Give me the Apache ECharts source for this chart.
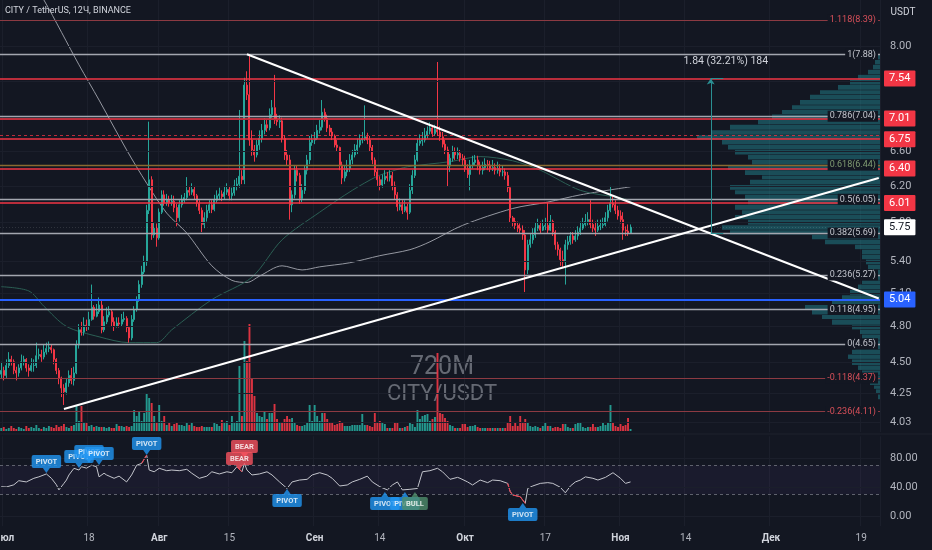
<!DOCTYPE html>
<html>
<head>
<meta charset="utf-8">
<title>CITY / TetherUS</title>
<script src="https://cdn.jsdelivr.net/npm/echarts@6.0.0/dist/echarts.min.js"></script>
<style>
html,body{margin:0;padding:0;background:#131722;overflow:hidden;}
#chart{width:932px;height:550px;}
</style>
</head>
<body>
<div id="chart"></div>
<script>
// ================= DATA (12h candles, CITY/USDT, Binance) =================
const firstOpen = 4.40;
const closes = [
4.43,4.39,4.47,4.52,4.50,4.43,4.41,4.45,4.50,4.52,4.45,4.43,4.47,4.47,4.55,4.56,4.54,4.58,4.61,4.62,
4.60,4.52,4.43,4.37,4.29,4.26,4.33,4.39,4.35,4.41,4.64,4.77,4.75,4.81,4.80,4.86,4.97,4.89,4.93,4.99,4.77,
4.84,4.90,4.93,4.84,4.80,4.83,4.82,4.86,4.87,4.79,4.70,4.86,4.95,5.04,5.18,5.30,5.40,5.93,6.27,
5.67,5.74,5.64,5.91,6.10,6.01,6.04,6.01,6.03,5.96,5.85,5.99,6.04,6.07,6.15,6.13,6.16,6.09,6.01,5.93,
5.78,5.85,5.93,5.99,5.94,6.04,6.09,6.11,6.08,6.13,6.16,6.09,6.12,6.20,6.22,6.31,6.27,7.45,7.32,6.74,
6.62,6.56,6.68,6.76,6.86,6.93,6.89,7.06,7.15,6.99,6.97,6.98,6.76,6.56,6.50,5.99,6.10,6.38,6.32,6.06,
6.15,6.38,6.50,6.71,6.74,6.76,6.86,6.90,7.09,7.01,6.89,6.84,6.79,
6.68,6.65,6.44,6.29,6.36,6.40,6.50,6.56,6.62,6.68,6.74,6.76,6.78,6.74,6.65,6.50,6.36,6.27,6.21,6.27,
6.31,6.29,6.32,6.20,6.10,5.97,5.99,5.93,5.97,5.91,6.15,6.32,6.50,6.70,6.73,6.74,6.80,6.85,6.89,6.82,
6.87,6.84,6.78,6.69,6.62,6.43,6.52,6.60,6.56,6.58,6.52,6.50,6.40,6.33,6.44,6.47,6.50,6.43,6.38,6.41,
6.45,6.44,6.40,6.41,6.38,6.40,6.36,
6.36,6.32,6.18,5.85,5.81,5.77,5.74,5.72,5.67,5.32,5.57,5.62,5.67,5.74,5.77,5.72,5.76,5.77,5.72,5.81,
5.70,5.57,5.52,5.42,5.40,5.57,5.60,5.66,5.62,5.66,5.70,5.74,5.78,5.81,5.83,5.78,5.74,5.72,5.76,5.77,
5.78,5.85,5.93,6.01,5.99,5.93,5.87,5.83,5.72,5.71,5.69,5.75
];
const highs = [
4.50,4.46,4.52,4.58,4.55,4.52,4.46,4.48,4.56,4.55,4.53,4.48,4.53,4.52,4.66,4.61,4.60,4.64,4.66,4.67,
4.64,4.61,4.53,4.45,4.38,4.32,4.37,4.43,4.45,4.46,4.68,4.82,4.84,4.88,4.86,4.93,5.18,4.99,5.00,5.06,5.04,
4.89,4.97,4.98,4.95,4.88,4.88,4.88,4.91,4.93,4.89,4.80,4.90,4.98,5.07,5.22,5.36,5.46,5.99,6.97,
6.31,5.80,5.79,5.95,6.15,6.15,6.11,6.09,6.10,6.09,6.00,6.04,6.10,6.12,6.30,6.20,6.23,6.20,6.11,6.04,
5.96,5.91,5.99,6.04,6.04,6.10,6.15,6.18,6.15,6.20,6.23,6.20,6.18,6.27,6.29,7.12,6.38,7.55,7.64,7.88,
6.86,6.68,6.74,6.86,6.94,7.01,6.99,7.14,7.25,7.59,7.07,7.05,7.02,6.80,6.62,6.56,6.15,6.44,6.43,6.35,
6.22,6.43,6.56,6.79,6.81,6.84,6.93,6.99,7.25,7.14,7.06,6.93,6.89,
6.81,6.74,6.66,6.48,6.43,6.50,6.57,6.62,6.69,6.76,6.81,6.84,7.18,6.83,6.79,6.68,6.53,6.40,6.31,6.33,
6.38,6.36,6.38,6.36,6.25,6.13,6.06,6.04,6.04,6.00,6.22,6.38,6.56,6.76,6.81,6.84,6.89,6.91,6.96,6.93,
6.93,7.77,6.91,6.84,6.74,6.66,6.57,6.67,6.65,6.65,6.62,6.57,6.55,6.45,6.50,6.55,6.56,6.55,6.48,6.48,
6.52,6.50,6.49,6.50,6.46,6.48,6.45,
6.43,6.40,6.36,6.20,5.87,5.85,5.81,5.79,5.77,5.72,5.62,5.68,5.74,5.80,5.84,5.81,5.83,5.85,6.02,5.88,
5.83,5.72,5.60,5.54,5.51,5.62,5.66,5.70,5.70,5.72,5.76,5.81,5.85,5.89,5.91,6.04,5.83,5.81,5.83,5.83,
5.85,5.91,5.99,6.20,6.09,6.04,5.98,5.93,5.91,5.76,5.78,5.78
];
const lows = [
4.37,4.35,4.37,4.45,4.47,4.40,4.35,4.38,4.43,4.47,4.42,4.38,4.42,4.42,4.45,4.52,4.50,4.52,4.56,4.58,
4.57,4.48,4.40,4.32,4.22,4.16,4.24,4.30,4.32,4.31,4.40,4.61,4.72,4.72,4.76,4.77,4.85,4.86,4.88,4.91,4.74,
4.75,4.82,4.88,4.80,4.76,4.79,4.79,4.80,4.84,4.75,4.66,4.68,4.84,4.93,5.02,5.15,5.28,5.36,5.89,
5.62,5.64,5.55,5.62,5.89,5.98,5.98,5.97,5.98,5.91,5.76,5.81,5.96,6.01,6.04,6.09,6.10,6.05,5.97,5.89,
5.70,5.74,5.81,5.90,5.90,5.92,6.01,6.04,6.03,6.05,6.10,6.04,6.04,6.09,6.15,6.18,6.22,6.22,7.25,6.67,
6.55,6.48,6.53,6.62,6.71,6.81,6.84,6.86,7.02,6.94,6.92,6.89,6.71,6.50,6.43,5.83,5.91,6.06,6.25,6.00,
6.02,6.11,6.33,6.45,6.67,6.69,6.74,6.82,6.86,6.97,6.84,6.79,6.74,
6.65,6.60,6.38,6.22,6.25,6.31,6.36,6.45,6.53,6.57,6.65,6.70,6.73,6.69,6.60,6.45,6.31,6.20,6.15,6.18,
6.22,6.25,6.25,6.15,6.05,5.92,5.93,5.89,5.91,5.83,5.89,6.11,6.29,6.48,6.67,6.67,6.71,6.76,6.81,6.78,
6.79,6.79,6.73,6.65,6.57,6.19,6.36,6.48,6.50,6.51,6.48,6.44,6.36,6.29,6.15,6.40,6.43,6.38,6.33,6.33,
6.38,6.38,6.36,6.37,6.33,6.34,6.31,
6.31,6.27,6.13,5.80,5.76,5.73,5.70,5.68,5.62,5.11,5.28,5.54,5.58,5.64,5.71,5.68,5.71,5.72,5.68,5.71,
5.66,5.52,5.46,5.36,5.35,5.18,5.52,5.57,5.58,5.60,5.62,5.67,5.72,5.76,5.77,5.74,5.70,5.66,5.70,5.72,
5.74,5.76,5.81,5.91,5.96,5.89,5.83,5.79,5.62,5.66,5.66,5.69
];
const volumes = [
3,4,2,3,5,3,2,4,3,2,5,3,4,3,6,3,2,4,3,5,
4,3,6,4,5,7,4,3,5,6,25,10,25,8,9,5,6,4,5,4,4,
4,3,4,3,3,7,5,5,4,5,4,5,21,15,19,10,18,37,33,
28,15,8,26,10,15,6,8,5,7,9,6,6,5,8,6,8,5,4,4,
5,4,4,4,4,8,7,5,11,8,10,6,15,8,10,65,15,90,70,107,
52,35,18,15,14,20,12,18,18,27,12,8,8,12,15,12,13,8,6,5,
5,6,8,26,10,26,15,10,18,18,12,8,8,
6,7,10,8,5,5,5,6,6,6,6,17,6,6,5,4,18,9,10,9,
7,3,3,3,8,9,3,3,4,5,8,7,4,21,12,15,16,17,10,12,
14,78,18,17,13,10,6,5,3,3,3,7,7,4,5,5,6,4,3,3,
3,3,3,3,3,3,3,
3,3,9,15,5,8,5,15,8,12,8,5,4,5,4,3,5,9,5,5,
3,4,4,3,7,7,4,3,3,7,9,8,4,3,4,4,7,4,4,5,
9,6,8,26,8,5,4,7,5,6,13,2
];

// Moving averages (anchor points: candle index, price)
const maSlowIdx = [13,17,31,39,50,58,66,74,84,92,98,103,112,120,127,139,151,163,171,184,204,218,231,251];
const maSlowVal = [8.92,8.70,7.73,7.25,6.62,6.23,5.90,5.69,5.36,5.22,5.20,5.26,5.36,5.32,5.35,5.39,5.46,5.52,5.60,5.77,5.95,6.02,6.10,6.19];
const maFastIdx = [0,11,17,26,39,51,62,68,84,100,112,127,140,150,156,162,179,191,204,215,231,246,251];
const maFastVal = [5.16,5.12,4.98,4.80,4.71,4.66,4.66,4.77,5.04,5.25,5.62,5.91,6.15,6.31,6.37,6.42,6.48,6.54,6.49,6.38,6.15,6.07,6.04];

// RSI
const rsiIdx = [0,2,5,7,10,13,15,18,20,22,23,25,26,27,29,31,32,34,36,38,39,41,42,45,47,50,52,54,56,58,59,61,63,66,68,71,74,76,79,82,84,87,90,92,94,96,97,98,100,103,106,108,111,114,116,119,122,124,127,130,132,135,138,140,143,146,148,151,154,156,158,160,163,166,168,171,174,176,179,182,183,186,188,191,194,196,199,202,203,204,207,209,210,212,215,218,220,223,225,227,229,231,233,236,238,241,244,247,249,251];
const rsiVal = [40.4,40,43,48.7,47,52,54,58,52,43,36,45,49.6,56.6,65.8,63.4,68,66,70,68,54,59,56.6,52,55,47,56.6,70,72.6,84,63.4,61,65.8,62.5,63.4,62.5,64.4,59,52,55,61,58,61,59.7,68,61,72.6,63.4,56.6,58,61,56.6,47,38,47,49.6,50.6,56.6,59.7,56.6,52,41.4,42.8,47,50.6,55,47,40.4,36,42.8,47,36,36.8,38,61,62.5,65.8,61,50.6,53.3,52,47,42.8,49.6,46,49.6,48.7,45,33.6,29,26.6,17.5,38,41.4,45,46,45,39.6,32,41.4,47,49.6,54,52,49.6,53.3,59.7,52,45,47];
const rsiRedRanges = [[56,58],[94,96],[202,209]];

// RSI annotations
const pivotIdx  = [18,31,35,39,58,97,95,114,153,161,165,208];
const pivotVal  = [59.3,66.2,73.1,70.3,84.1,80,63.4,37.2,33,33,33,17.9];
const pivotText = ['PIVOT','PIVOT','PIVOT','PIVOT','PIVOT','BEAR','BEAR','PIVOT','PIVOT','PIVOT','BULL','PIVOT'];
const pivotSide = ['above','above','above','above','above','above','above','below','below','below','below','below'];

// Fibonacci retracement
const fibLevels = [1.118,1,0.786,0.618,0.5,0.382,0.236,0.118,0,-0.118,-0.236];
const fibPrices = [8.39,7.88,7.04,6.44,6.05,5.69,5.27,4.95,4.65,4.37,4.11];
// Horizontal support / resistance
const resistancePrices = [7.54,7.01,6.75,6.40,6.01];
const supportPrice = 5.04;
const lastPrice = 5.75;
const alertPrice = 6.80;
// Trend lines [index, price]
const trendDown = [[98,7.88],[350,5.05]];
const trendUp   = [[25,4.13],[350,6.29]];
// Measure tool
const measureIdx = 283, measureFrom = 5.69, measureTo = 7.54;
const measureText = '1.84 (32.21%) 184';
const measureTextPos = [289, 7.78];

// Volume profile (price bin edges, top to bottom) and relative volume
const profileEdges = [7.87,7.80,7.73,7.66,7.59,7.52,7.45,7.38,7.32,7.25,7.18,7.12,7.06,6.99,6.93,6.86,6.80,6.74,6.68,6.62,6.56,6.50,6.44,6.38,6.32,6.27,6.21,6.15,6.10,6.04,5.99,5.93,5.88,5.83,5.77,5.72,5.67,5.62,5.57,5.52,5.47,5.42,5.37,5.32,5.27,5.22,5.18,5.13,5.08,5.04,4.99,4.95,4.90,4.86,4.81,4.77,4.73,4.68,4.64,4.60,4.56,4.52,4.47,4.43,4.39,4.35,4.31,4.28,4.24,4.20];
const profileVol = [3,5,7,12,22,30,42,60,70,80,88,98,108,122,150,168,183,158,152,145,132,128,152,135,118,130,150,145,135,132,145,138,145,132,158,150,68,55,25,18,18,14,12,12,15,18,22,30,38,48,75,68,58,48,28,20,18,20,25,28,32,28,22,18,14,10,6,4,2];

// Axis ticks / labels
const priceTicks = [8.00,7.50,7.00,6.60,6.20,5.80,5.40,5.10,4.80,4.50,4.25,4.03];
const rsiTicks = [0,40,80];
const xLabelDates = ['2023-07-01','2023-07-18','2023-08-01','2023-08-15','2023-09-01','2023-09-14','2023-10-01','2023-10-17','2023-11-01','2023-11-14','2023-12-01','2023-12-19'];
const xLabelTexts = ['Июл','18','Авг','15','Сен','14','Окт','17','Ноя','14','Дек','19'];

// ================= BUILD =================
const BG = '#131722';
const FONT = 'Roboto, "Noto Sans", sans-serif';
const UP = '#26a69a', DN = '#f23645';
const GRIDC = '#1b1f2b';

const categories = [];
const t0 = Date.UTC(2023, 5, 30, 12);
for (let k = 0; k < 351; k++) {
  categories.push(new Date(t0 + k * 43200000).toISOString().slice(0, 16).replace('T', ' '));
}
const labelMap = {};
xLabelDates.forEach((d, i) => { labelMap[d + ' 00:00'] = xLabelTexts[i]; });
const showLbl = (idx, val) => labelMap[val] !== undefined;

const candles = closes.map((c, k) => [k === 0 ? firstOpen : closes[k - 1], c, lows[k], highs[k]]);
const volData = volumes.map((v, k) => ({
  value: v,
  itemStyle: { color: candles[k][1] >= candles[k][0] ? 'rgba(38,166,154,0.9)' : 'rgba(242,54,69,0.9)' }
}));
const rsiPts = rsiIdx.map((k, i) => [k, rsiVal[i]]);

// drawings
const drawItems = [];
fibLevels.forEach((lv, i) => {
  const p = fibPrices[i];
  const red = lv > 1 || lv < 0, gold = lv === 0.618;
  drawItems.push({
    yAxis: p,
    lineStyle: { color: red ? '#8c3a42' : gold ? '#8a6a30' : '#a3a6af', width: red ? 1 : 1.3, type: 'solid' },
    label: { show: true, position: 'insideEnd', distance: 2, formatter: lv + '(' + p.toFixed(2) + ')',
      color: red ? '#d9505a' : gold ? '#7f9b72' : '#c3c6ce', fontSize: 9, fontFamily: FONT,
      backgroundColor: BG, padding: [1, 2] }
  });
});
drawItems.push({ yAxis: alertPrice, lineStyle: { color: 'rgba(242,54,69,0.75)', width: 1, type: [3, 3] }, label: { show: false } });
resistancePrices.forEach(p => drawItems.push({
  yAxis: p, lineStyle: { color: '#f23645', width: 1.6, type: 'solid' },
  label: { show: true, position: 'end', distance: 4, formatter: p.toFixed(2), color: '#ffffff',
    backgroundColor: '#f23645', padding: [3, 5, 2, 5], fontSize: 11, fontFamily: FONT, borderRadius: 1 }
}));
drawItems.push({
  yAxis: supportPrice, lineStyle: { color: '#2962ff', width: 2, type: 'solid' },
  label: { show: true, position: 'end', distance: 4, formatter: supportPrice.toFixed(2), color: '#ffffff',
    backgroundColor: '#2962ff', padding: [3, 5, 2, 5], fontSize: 11, fontFamily: FONT, borderRadius: 1 }
});
drawItems.push({
  yAxis: lastPrice, lineStyle: { color: 'rgba(255,255,255,0.12)', width: 1, type: [1, 2] },
  label: { show: true, position: 'end', distance: 4, formatter: lastPrice.toFixed(2), color: '#131722',
    backgroundColor: '#ffffff', padding: [3, 5, 2, 5], fontSize: 11, fontFamily: FONT, borderRadius: 1 }
});
[trendDown, trendUp].forEach(tl => drawItems.push([
  { coord: tl[0], lineStyle: { color: '#ffffff', width: 2, type: 'solid' }, label: { show: false } },
  { coord: tl[1] }
]));
// measure
drawItems.push([
  { coord: [measureIdx, measureFrom], symbol: 'none', lineStyle: { color: '#2a8f93', width: 1, type: 'solid' }, label: { show: false } },
  { coord: [measureIdx, measureTo], symbol: 'arrow', symbolSize: [6, 6] }
]);
drawItems.push([
  { coord: [measureIdx, measureTo], symbol: 'none', lineStyle: { color: '#2a8f93', width: 1, type: 'solid' }, label: { show: false } },
  { coord: [measureIdx + 5, measureTo], symbol: 'none' }
]);
drawItems.push([
  { coord: [measureIdx, measureFrom], symbol: 'none', lineStyle: { color: '#2a8f93', width: 1, type: 'solid' }, label: { show: false } },
  { coord: [measureIdx + 5, measureFrom], symbol: 'none' }
]);

const tickItems = priceTicks.map(p => ({
  yAxis: p, lineStyle: { color: GRIDC, width: 1, type: 'solid' },
  label: { show: true, position: 'end', distance: 10, formatter: p.toFixed(2), color: '#b2b5be', fontSize: 11, fontFamily: FONT }
}));

const rsiLineItems = [
  { yAxis: 70, lineStyle: { color: '#5f626d', width: 1, type: [3, 3] }, label: { show: false } },
  { yAxis: 30, lineStyle: { color: '#5f626d', width: 1, type: [3, 3] }, label: { show: false } }
].concat(rsiTicks.map(v => ({
  yAxis: v, lineStyle: { color: GRIDC, width: 1, type: 'solid' },
  label: { show: true, position: 'end', distance: 10, formatter: v.toFixed(2), color: '#b2b5be', fontSize: 11, fontFamily: FONT }
})));

const pivotColor = t => t === 'BEAR' ? '#f7525f' : t === 'BULL' ? '#4f8d6c' : '#2196f3';
const pointerData = pivotIdx.map((k, i) => ({
  value: [k, pivotVal[i]],
  symbol: pivotSide[i] === 'above' ? 'path://M0,0L10,0L5,6Z' : 'path://M5,0L10,6L0,6Z',
  symbolOffset: [0, pivotSide[i] === 'above' ? '-50%' : '50%'],
  itemStyle: { color: pivotColor(pivotText[i]) }
}));
const pivotLabelData = pivotIdx.map((k, i) => ({
  value: [k, pivotVal[i]],
  label: { show: true, formatter: pivotText[i], position: pivotSide[i] === 'above' ? 'top' : 'bottom', distance: 5,
    backgroundColor: pivotColor(pivotText[i]), color: '#ffffff', fontSize: 7.5, fontWeight: 'bold', fontFamily: FONT,
    padding: [3, 4, 2, 4], borderRadius: 2 }
}));

const redSeries = rsiRedRanges.map(r => ({
  type: 'line', xAxisIndex: 3, yAxisIndex: 2, silent: true, showSymbol: false, animation: false,
  data: rsiPts.filter(p => p[0] >= r[0] && p[0] <= r[1]),
  lineStyle: { color: '#f23645', width: 1 }, z: 4
}));

const catAxisBase = { type: 'category', data: categories, boundaryGap: true,
  axisLine: { show: false }, axisTick: { show: false } };

const option = {
  backgroundColor: BG,
  animation: false,
  textStyle: { fontFamily: FONT },
  grid: [
    { left: 0, top: 0, width: 880, height: 432, outerBoundsMode: 'none' },
    { left: 0, top: 300, width: 880, height: 131, outerBoundsMode: 'none' },
    { left: 0, top: 436.25, width: 880, height: 89.9, outerBoundsMode: 'none' }
  ],
  xAxis: [
    Object.assign({}, catAxisBase, { gridIndex: 0, axisLabel: { show: false },
      splitLine: { show: true, interval: showLbl, lineStyle: { color: GRIDC, width: 1 } } }),
    { type: 'value', gridIndex: 0, position: 'top', inverse: true, min: 0, max: 880, show: false },
    Object.assign({}, catAxisBase, { gridIndex: 1, show: false }),
    Object.assign({}, catAxisBase, { gridIndex: 2,
      axisLabel: { show: true, interval: showLbl, margin: 7,
        formatter: v => { const t = labelMap[v]; return isNaN(+t) ? '{m|' + t + '}' : '{d|' + t + '}'; },
        rich: { m: { fontWeight: 'bold', color: '#d1d4dc', fontSize: 10, fontFamily: FONT },
                d: { color: '#b2b5be', fontSize: 10, fontFamily: FONT } } },
      splitLine: { show: true, interval: showLbl, lineStyle: { color: GRIDC, width: 1 } } })
  ],
  yAxis: [
    { type: 'log', logBase: 10, gridIndex: 0, min: 3.960, max: 8.699, show: false, splitLine: { show: false } },
    { type: 'value', gridIndex: 1, min: 0, max: 131, show: false, splitLine: { show: false } },
    { type: 'value', gridIndex: 2, min: -14, max: 110, show: false, splitLine: { show: false } }
  ],
  graphic: [
    { type: 'text', left: 5, top: 6, z: 50, style: { text: 'CITY / TetherUS, 12Ч, BINANCE', fill: '#d1d4dc', font: '9px ' + FONT } },
    { type: 'text', x: 903, y: 12, z: 50, style: { text: 'USDT', fill: '#d1d4dc', font: '10px ' + FONT, align: 'center', verticalAlign: 'middle' } },
    { type: 'text', x: 442, y: 368, z: 0, style: { text: '720M', fill: 'rgba(130,133,143,0.75)', font: '25px ' + FONT, align: 'center', verticalAlign: 'middle' } },
    { type: 'text', x: 442, y: 394, z: 0, style: { text: 'CITY/USDT', fill: 'rgba(130,133,143,0.75)', font: '22px ' + FONT, align: 'center', verticalAlign: 'middle' } },
    { type: 'line', z: 0, shape: { x1: 0, y1: 434, x2: 932, y2: 434 }, style: { stroke: '#1e222d', lineWidth: 1 } }
  ],
  series: [
    { type: 'custom', name: 'profile', xAxisIndex: 1, yAxisIndex: 0, silent: true, z: 1,
      encode: { x: 0, y: [1, 2] },
      data: profileVol.map((v, i) => [v, profileEdges[i + 1], profileEdges[i]]),
      renderItem: (params, api) => {
        const a = api.coord([api.value(0), api.value(2)]);
        const b = api.coord([0, api.value(1)]);
        return { type: 'rect', shape: { x: a[0], y: a[1], width: b[0] - a[0], height: Math.max(0.5, b[1] - a[1] - 0.5) },
          style: { fill: 'rgba(36,145,155,0.45)' } };
      } },
    { type: 'line', name: 'ticks', xAxisIndex: 0, yAxisIndex: 0, data: [], silent: true, z: 1,
      markLine: { silent: true, symbol: 'none', animation: false, data: tickItems } },
    { type: 'bar', name: 'volume', xAxisIndex: 2, yAxisIndex: 1, data: volData, barWidth: 1.9, silent: true, z: 2 },
    { type: 'line', name: 'maSlow', xAxisIndex: 0, yAxisIndex: 0, silent: true, showSymbol: false, smooth: 0.3,
      data: maSlowIdx.map((k, i) => [k, maSlowVal[i]]), lineStyle: { color: '#9598a1', width: 1 }, z: 2 },
    { type: 'line', name: 'maFast', xAxisIndex: 0, yAxisIndex: 0, silent: true, showSymbol: false, smooth: 0.3,
      data: maFastIdx.map((k, i) => [k, maFastVal[i]]), lineStyle: { color: '#2b5f54', width: 1 }, z: 2 },
    { type: 'candlestick', name: 'CITY', xAxisIndex: 0, yAxisIndex: 0, data: candles, barWidth: 1.5, silent: true, z: 3,
      itemStyle: { color: UP, color0: DN, borderColor: UP, borderColor0: DN, borderWidth: 1 } },
    { type: 'line', name: 'drawings', xAxisIndex: 0, yAxisIndex: 0, data: [], silent: true, z: 5,
      markLine: { silent: true, symbol: 'none', animation: false, data: drawItems },
      markPoint: { silent: true, animation: false, symbolSize: 0,
        data: [{ coord: measureTextPos, label: { show: true, position: 'inside', formatter: measureText, color: '#d1d4dc', fontSize: 10.5, fontFamily: FONT } }] } },
    { type: 'line', name: 'RSI', xAxisIndex: 3, yAxisIndex: 2, data: rsiPts, silent: true, showSymbol: false,
      lineStyle: { color: '#c3c5cc', width: 1 }, z: 3,
      markArea: { silent: true, itemStyle: { color: 'rgba(126,87,194,0.07)' }, data: [[{ yAxis: 30 }, { yAxis: 70 }]] },
      markLine: { silent: true, symbol: 'none', animation: false, data: rsiLineItems } }
  ].concat(redSeries).concat([
    { type: 'scatter', name: 'pivotPtr', xAxisIndex: 3, yAxisIndex: 2, silent: true, symbolSize: [7, 5], data: pointerData, z: 6, clip: false },
    { type: 'scatter', name: 'pivotLbl', xAxisIndex: 3, yAxisIndex: 2, silent: true, symbolSize: 0, data: pivotLabelData, z: 6, clip: false,
      labelLayout: { hideOverlap: false } }
  ])
};

const chart = echarts.init(document.getElementById('chart'), null, { renderer: 'canvas', width: 932, height: 550 });
chart.setOption(option);
</script>
</body>
</html>
